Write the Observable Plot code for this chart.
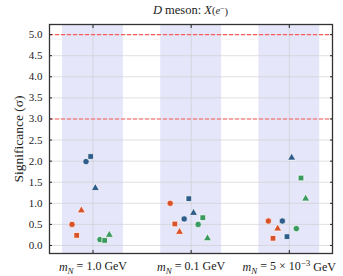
<!DOCTYPE html>
<html><head><meta charset="utf-8">
<script src="https://cdn.jsdelivr.net/npm/d3@7"></script>
<script src="https://cdn.jsdelivr.net/npm/@observablehq/plot@0.6"></script>
<style>body{margin:0;background:#fff}</style>
</head><body><div id="chart"></div>
<script>
const categories = ["1.0 GeV", "0.1 GeV", "5e-3 GeV"];
const yTicks = [0, 0.5, 1, 1.5, 2, 2.5, 3, 3.5, 4, 4.5, 5];
const thresholds = [5, 3];

const redCircle     = [0.50, 1.00, 0.58];
const redSquare     = [0.24, 0.51, 0.17];
const redTriangle   = [0.83, 0.32, 0.40];
const blueCircle    = [1.99, 0.63, 0.58];
const blueSquare    = [2.11, 1.11, 0.21];
const blueTriangle  = [1.36, 0.77, 2.08];
const greenCircle   = [0.14, 0.50, 0.40];
const greenSquare   = [0.12, 0.66, 1.60];
const greenTriangle = [0.25, 0.17, 1.11];

const series = [
  {v: redCircle, c: "red", s: "circle"},
  {v: redSquare, c: "red", s: "square"},
  {v: redTriangle, c: "red", s: "triangle"},
  {v: blueCircle, c: "blue", s: "circle"},
  {v: blueSquare, c: "blue", s: "square"},
  {v: blueTriangle, c: "blue", s: "triangle"},
  {v: greenCircle, c: "green", s: "circle"},
  {v: greenSquare, c: "green", s: "square"},
  {v: greenTriangle, c: "green", s: "triangle"}
];
const palette = {red: "#d8532b", blue: "#2e5d8b", green: "#3a9a5f"};

const step = 0.0475, shift = -0.0235;
const points = [];
series.forEach((se, k) => se.v.forEach((y, i) => points.push({
  x: i + (k - 4) * step + shift, y, color: palette[se.c], symbol: se.s
})));
const bands = categories.map((c, i) => ({x1: i - 0.31, x2: i + 0.31}));
const xTicks = categories.map((c, i) => i);

const plot = Plot.plot({
  width: 343, height: 276,
  marginLeft: 49, marginRight: 11, marginTop: 24, marginBottom: 23,
  style: {fontFamily: "'Liberation Serif', 'DejaVu Serif', serif", fontSize: "11px", background: "#fff", color: "#222"},
  x: {type: "linear", domain: [-0.443, 2.44]},
  y: {domain: [-0.19, 5.24]},
  marks: [
    Plot.rect(bands, {x1: "x1", x2: "x2", fill: "#e6e6fa"}),
    Plot.gridY(yTicks, {stroke: "#ccc", strokeOpacity: 0.6}),
    Plot.gridX(xTicks, {stroke: "#ccc", strokeOpacity: 0.6}),
    Plot.ruleY(thresholds, {stroke: "#ff5c5c", strokeDasharray: "4,2", strokeWidth: 1.1}),
    Plot.axisY({ticks: yTicks, tickSize: -3, tickPadding: 10, tickFormat: d3.format(".1f"),
      label: "Significance (σ)", labelAnchor: "center", labelArrow: "none", labelOffset: 36, fontSize: 11}),
    Plot.axisY({anchor: "right", ticks: yTicks, tickSize: -3, tickFormat: () => "", label: null}),
    Plot.axisX({ticks: xTicks, tickSize: -3, tickPadding: 12, tickFormat: i => categories[i], label: null, fontSize: 12}),
    Plot.axisX({anchor: "top", ticks: xTicks, tickSize: -3, tickFormat: () => "", label: null}),
    Plot.dot(points, {x: "x", y: "y", fill: "color", symbol: "symbol", r: d => d.symbol === "triangle" ? 3.2 : 3.6,
      stroke: "#fff", strokeWidth: 0.7}),
    Plot.frame({stroke: "#333", strokeWidth: 1.3})
  ]
});
document.getElementById("chart").appendChild(plot);

const svg = d3.select(plot);
svg.selectAll('g[aria-label="y-axis label"] text').style("font-size", "13.5px");
svg.selectAll('g[aria-label="x-axis tick label"] text').each(function() {
  const t = d3.select(this);
  const lab = t.text();
  if (!lab) return;
  t.text(null);
  t.append("tspan").style("font-style", "italic").text("m");
  t.append("tspan").attr("dy", "0.3em").style("font-size", "9px").style("font-style", "italic").text("N");
  if (lab === "5e-3 GeV") {
    t.append("tspan").attr("dy", "-0.3em").text(" = 5 × 10");
    t.append("tspan").attr("dy", "-0.45em").style("font-size", "9px").text("−3");
    t.append("tspan").attr("dy", "0.45em").text(" GeV");
  } else {
    t.append("tspan").attr("dy", "-0.3em").text(" = " + lab);
  }
});
const title = svg.append("text").attr("x", 190.5).attr("y", 14).attr("text-anchor", "middle")
  .style("font-size", "12.5px").attr("fill", "#222");
title.append("tspan").style("font-style", "italic").text("D");
title.append("tspan").text(" meson: ");
title.append("tspan").style("font-style", "italic").text("X");
title.append("tspan").style("font-size", "10.5px").text("(");
title.append("tspan").style("font-size", "10.5px").style("font-style", "italic").text("e");
title.append("tspan").attr("dy", "-0.4em").style("font-size", "8px").text("−");
title.append("tspan").attr("dy", "0.4em").style("font-size", "10.5px").text(")");
</script>
</body></html>
